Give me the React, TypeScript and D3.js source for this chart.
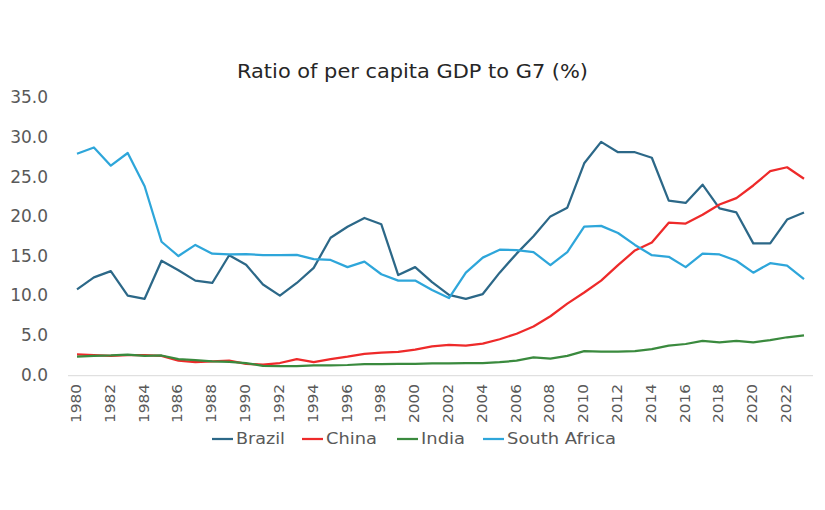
import React from "react";
import * as d3 from "d3";

const years: number[] = d3.range(1980, 2024);
const brazil: number[] = [10.9, 12.4, 13.2, 10.1, 9.7, 14.5, 13.3, 12.0, 11.7, 15.2, 14.0, 11.5, 10.1, 11.7, 13.6, 17.4, 18.8, 19.9, 19.1, 12.7, 13.7, 11.8, 10.2, 9.7, 10.3, 13.0, 15.4, 17.6, 20.1, 21.2, 26.8, 29.5, 28.2, 28.2, 27.5, 22.1, 21.8, 24.1, 21.1, 20.6, 16.7, 16.7, 19.7, 20.6];
const china: number[] = [2.7, 2.6, 2.5, 2.6, 2.6, 2.5, 1.9, 1.7, 1.8, 1.9, 1.5, 1.4, 1.6, 2.1, 1.7, 2.1, 2.4, 2.75, 2.9, 3.0, 3.3, 3.7, 3.9, 3.8, 4.05, 4.6, 5.3, 6.2, 7.5, 9.1, 10.5, 12.0, 13.95, 15.8, 16.8, 19.3, 19.2, 20.3, 21.6, 22.4, 24.0, 25.8, 26.3, 24.85];
const india: number[] = [2.4, 2.5, 2.55, 2.65, 2.5, 2.55, 2.1, 1.95, 1.8, 1.75, 1.6, 1.25, 1.2, 1.2, 1.3, 1.3, 1.35, 1.45, 1.45, 1.5, 1.5, 1.55, 1.55, 1.6, 1.6, 1.7, 1.9, 2.3, 2.15, 2.5, 3.1, 3.05, 3.05, 3.1, 3.35, 3.8, 4.0, 4.4, 4.2, 4.4, 4.2, 4.5, 4.85, 5.1];
const southAfrica: number[] = [28.0, 28.8, 26.5, 28.1, 23.9, 16.9, 15.1, 16.5, 15.4, 15.3, 15.35, 15.2, 15.2, 15.25, 14.7, 14.6, 13.7, 14.4, 12.8, 12.0, 12.0, 10.8, 9.8, 13.0, 14.9, 15.9, 15.85, 15.6, 13.95, 15.6, 18.8, 18.9, 18.0, 16.5, 15.2, 15.0, 13.7, 15.4, 15.3, 14.5, 13.0, 14.2, 13.9, 12.2];

const seriesNames: string[] = ["Brazil", "China", "India", "South Africa"];
const seriesValues: number[][] = [brazil, china, india, southAfrica];
const seriesColors: string[] = ["#2c6888", "#ee2a2a", "#3a8a3e", "#2ea6da"];
const yTicks: number[] = [0, 5, 10, 15, 20, 25, 30, 35];
const xTickYears: number[] = d3.range(1980, 2024, 2);
const title = "Ratio of per capita GDP to G7 (%)";

const W = 825;
const H = 510;
const FONT = "'DejaVu Sans', 'Open Sans', sans-serif";

export default function App() {
  const x = d3.scaleLinear().domain([1980, 2023]).range([77, 804]);
  const y = d3.scaleLinear().domain([0, 35]).range([375.7, 98.3]);
  const line = d3
    .line<number>()
    .x((_, i) => x(years[i]))
    .y((d) => y(d));

  const legendX = [212, 302, 397, 483];
  const legendLen = [49, 51, 44, 109];

  return (
    <svg
      width={W}
      height={H}
      style={{ position: "absolute", left: 0, top: 0, background: "#fff" }}
      fontFamily={FONT}
    >
      <rect width={W} height={H} fill="#fff" />
      <text
        x={412.5}
        y={72}
        textAnchor="middle"
        dominantBaseline="middle"
        fontSize={19}
        fill="#262626"
        textLength={351}
        lengthAdjust="spacingAndGlyphs"
      >
        {title}
      </text>
      {yTicks.map((t) => (
        <text
          key={t}
          x={48}
          y={y(t)}
          textAnchor="end"
          dominantBaseline="middle"
          fontSize={17}
          fill="#595959"
        >
          {t.toFixed(1)}
        </text>
      ))}
      <line x1={68} x2={813} y1={y(0)} y2={y(0)} stroke="#d9d9d9" strokeWidth={1} />
      {xTickYears.map((yr) => (
        <text
          key={yr}
          transform={`translate(${x(yr)},384) rotate(-90)`}
          textAnchor="end"
          dominantBaseline="middle"
          fontSize={14.5}
          fill="#595959"
          textLength={39}
          lengthAdjust="spacingAndGlyphs"
        >
          {yr}
        </text>
      ))}
      {seriesValues.map((vals, i) => (
        <path
          key={seriesNames[i]}
          d={line(vals) || ""}
          fill="none"
          stroke={seriesColors[i]}
          strokeWidth={2.25}
          strokeLinejoin="round"
        />
      ))}
      {seriesNames.map((name, i) => (
        <g key={name} transform={`translate(${legendX[i]},439)`}>
          <line x1={0} x2={21} y1={0} y2={0} stroke={seriesColors[i]} strokeWidth={2.25} />
          <text
            x={24}
            y={0}
            dominantBaseline="middle"
            fontSize={15.5}
            fill="#595959"
            textLength={legendLen[i]}
            lengthAdjust="spacingAndGlyphs"
          >
            {name}
          </text>
        </g>
      ))}
    </svg>
  );
}
